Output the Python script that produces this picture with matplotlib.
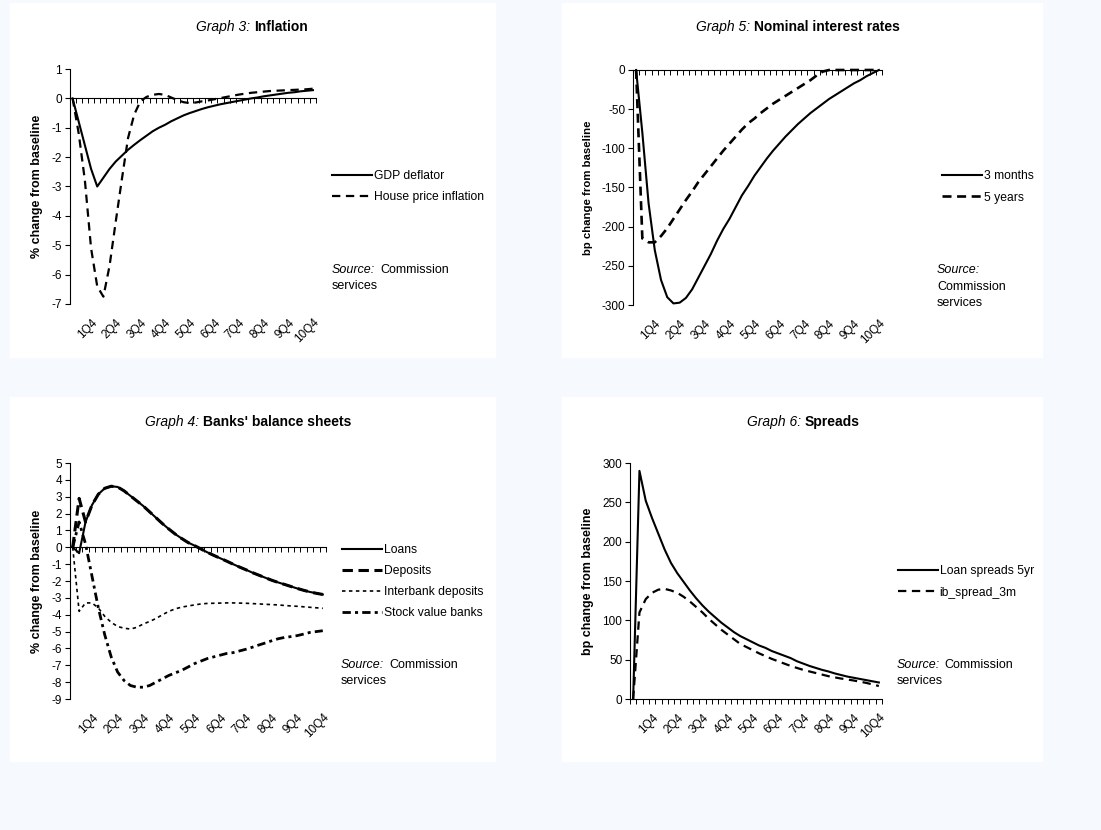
import numpy as np
import matplotlib.pyplot as plt
from matplotlib.patches import Rectangle

plt.rcParams['font.family'] = ['Liberation Sans', 'DejaVu Sans']
plt.rcParams['lines.scale_dashes'] = False
plt.rcParams['axes.unicode_minus'] = False

W, H = 1101, 830

# 40 quarters, labels shown on the fourth quarter of each year
quarters = np.arange(40)
tick_pos = [3, 7, 11, 15, 19, 23, 27, 31, 35, 39]
tick_labels = ['1Q4', '2Q4', '3Q4', '4Q4', '5Q4', '6Q4', '7Q4', '8Q4', '9Q4', '10Q4']

# Graph 3: Inflation (% change from baseline)
gdp_deflator = [0, -0.8, -1.6, -2.4, -3.0, -2.7, -2.4, -2.15, -1.95, -1.75,
                -1.58, -1.42, -1.27, -1.12, -1.0, -0.9, -0.78, -0.68, -0.58, -0.5,
                -0.43, -0.36, -0.3, -0.25, -0.2, -0.16, -0.12, -0.08, -0.04, 0.0,
                0.03, 0.07, 0.1, 0.13, 0.16, 0.19, 0.21, 0.24, 0.26, 0.28]
house_price = [0, -1.2, -2.8, -5.1, -6.4, -6.75, -5.7, -4.2, -2.75, -1.35,
               -0.55, -0.1, 0.05, 0.12, 0.15, 0.12, 0.03, -0.06, -0.13, -0.16,
               -0.14, -0.1, -0.07, -0.03, 0.01, 0.05, 0.09, 0.13, 0.16, 0.19,
               0.21, 0.23, 0.25, 0.26, 0.27, 0.28, 0.29, 0.3, 0.31, 0.33]

# Graph 5: Nominal interest rates (bp change from baseline)
rate_3m = [0, -80, -170, -230, -268, -290, -298, -297, -291, -280,
           -265, -250, -235, -218, -203, -190, -175, -160, -148, -135,
           -124, -113, -103, -94, -85, -77, -69, -62, -55, -49,
           -43, -37, -32, -27, -22, -17, -13, -8, -4, 0]
rate_5y = [0, -215, -220, -220, -212, -202, -190, -178, -166, -155,
           -143, -133, -123, -113, -103, -94, -85, -76, -68, -62,
           -55, -49, -43, -38, -33, -28, -23, -18, -13, -7,
           -2, 0, 0, 0, 0, 0, 0, 0, 0, 0]

# Graph 4: Banks' balance sheets (% change from baseline)
loans = [0, -0.35, 1.5, 2.5, 3.15, 3.5, 3.62, 3.58, 3.35, 3.05,
         2.75, 2.45, 2.1, 1.75, 1.4, 1.08, 0.78, 0.52, 0.28, 0.1,
         -0.1, -0.3, -0.48, -0.65, -0.82, -1.0, -1.17, -1.33, -1.5, -1.65,
         -1.8, -1.95, -2.08, -2.2, -2.32, -2.44, -2.55, -2.65, -2.73, -2.8]
deposits = [0, 2.9, 1.5, 2.5, 3.15, 3.5, 3.62, 3.58, 3.35, 3.05,
            2.75, 2.45, 2.1, 1.75, 1.4, 1.08, 0.78, 0.52, 0.28, 0.1,
            -0.1, -0.3, -0.48, -0.65, -0.82, -1.0, -1.17, -1.33, -1.5, -1.65,
            -1.8, -1.95, -2.08, -2.2, -2.32, -2.44, -2.55, -2.65, -2.73, -2.8]
interbank = [0, -3.8, -3.3, -3.3, -3.6, -4.1, -4.45, -4.7, -4.8, -4.85,
             -4.75, -4.55, -4.4, -4.22, -4.0, -3.8, -3.65, -3.55, -3.48, -3.42,
             -3.36, -3.33, -3.32, -3.31, -3.3, -3.3, -3.31, -3.32, -3.34, -3.36,
             -3.38, -3.4, -3.42, -3.45, -3.48, -3.5, -3.53, -3.56, -3.59, -3.62]
stock_value = [0, 1.5, 0.2, -1.7, -3.6, -5.2, -6.5, -7.4, -7.9, -8.2,
               -8.3, -8.3, -8.2, -8.0, -7.8, -7.6, -7.45, -7.3, -7.1, -6.9,
               -6.75, -6.6, -6.5, -6.4, -6.3, -6.25, -6.15, -6.05, -5.93, -5.8,
               -5.68, -5.55, -5.43, -5.35, -5.3, -5.24, -5.15, -5.05, -5.0, -4.95]

# Graph 6: Spreads (bp change from baseline)
loan_spreads = [0, 290, 252, 230, 210, 190, 173, 160, 149, 138,
                128, 119, 111, 104, 97, 91, 85, 80, 76, 72,
                68, 65, 61, 58, 55, 52, 48, 45, 42, 39.5,
                37, 35, 32.5, 30.5, 28.5, 27, 25.5, 24, 22.5, 21]
ib_spread = [0, 110, 127, 135, 139, 140, 138, 135, 130, 124,
             117, 110, 102, 95, 88, 82, 76, 70, 66, 62,
             58, 54.5, 51, 48, 45, 42, 39.5, 37, 35, 33,
             31, 29, 27.5, 26, 24.8, 23.5, 22, 20.5, 18.5, 16.5]


def px(x, y):
    return x / W, 1 - y / H


fig = plt.figure(figsize=(W / 100, H / 100), dpi=100, facecolor='#f6f9fd')

# white panels behind each graph
for x0, y0, x1, y1 in [(10, 3, 496, 358), (562, 3, 1043, 358),
                       (10, 397, 496, 762), (562, 397, 1043, 762)]:
    fig.patches.append(Rectangle(px(x0, y1), (x1 - x0) / W, (y1 - y0) / H,
                                 transform=fig.transFigure, facecolor='white',
                                 edgecolor='none', zorder=-1))


def make_axes(left, top, right, bottom, ylim, yticks):
    l, b = px(left, bottom)
    ax = fig.add_axes([l, b, (right - left) / W, (bottom - top) / H])
    ax.set_facecolor('none')
    ax.set_xlim(-0.5, 39.5)
    ax.set_ylim(ylim)
    ax.set_yticks(yticks)
    ax.spines['right'].set_visible(False)
    ax.spines['bottom'].set_visible(False)
    ax.spines['top'].set_position(('data', 0))
    ax.spines['top'].set_linewidth(0.8)
    ax.spines['left'].set_linewidth(0.8)
    ax.set_xticks(tick_pos)
    ax.set_xticklabels(tick_labels, rotation=45, ha='right', rotation_mode='anchor')
    ax.set_xticks(np.arange(-0.5, 40, 1), minor=True)
    ax.tick_params(axis='x', which='major', length=0, pad=9, labelsize=8.5)
    ax.tick_params(axis='x', which='minor', bottom=False, top=True,
                   direction='in', length=3.5, width=0.7)
    ax.tick_params(axis='y', direction='out', length=3.5, width=0.8,
                   labelsize=8.5, pad=2)
    return ax


def title(x_split, y, num, name):
    fig.text(*px(x_split - 2, y), f'Graph {num}:', style='italic',
             fontsize=10, ha='right', va='center')
    fig.text(*px(x_split + 2, y), name, fontweight='bold',
             fontsize=10, ha='left', va='center')


def source(x, y, x_comm, two_lines=True):
    fig.text(*px(x, y), 'Source:', style='italic', fontsize=9, va='center')
    if two_lines:
        fig.text(*px(x_comm, y), 'Commission', fontsize=9, va='center')
        fig.text(*px(x, y + 16), 'services', fontsize=9, va='center')
    else:
        fig.text(*px(x, y + 17), 'Commission', fontsize=9, va='center')
        fig.text(*px(x, y + 33), 'services', fontsize=9, va='center')


def legend(ax, x, y, handles=None, labels=None):
    if handles is None:
        handles, labels = ax.get_legend_handles_labels()
    ax.legend(handles, labels, loc='center left', bbox_to_anchor=px(x, y),
              bbox_transform=fig.transFigure, frameon=False, fontsize=8.7,
              borderpad=0, borderaxespad=0, handlelength=3.3,
              handletextpad=0.15, labelspacing=0.75)


# Graph 3
ax1 = make_axes(69.5, 69, 316, 304, (-7, 1), range(-7, 2))
ax1.plot(quarters, gdp_deflator, color='black', lw=1.5, label='GDP deflator', clip_on=False)
ax1.plot(quarters, house_price, color='black', lw=1.6, dashes=(6, 4),
         label='House price inflation', clip_on=False)
title(252.5, 27, 3, 'Inflation')
fig.text(*px(37, 186.5), '% change from baseline', rotation=90, fontweight='bold',
         fontsize=9, ha='center', va='center')
legend(ax1, 332, 186.5)
source(332, 270, 380)

# Graph 5
ax2 = make_axes(633, 70, 882, 305, (-300, 0), range(-300, 1, 50))
ax2.plot(quarters, rate_3m, color='black', lw=1.5, label='3 months', clip_on=False)
ax2.plot(quarters, rate_5y, color='black', lw=1.9, dashes=(6.5, 4),
         label='5 years', clip_on=False)
title(752, 27, 5, 'Nominal interest rates')
fig.text(*px(588, 188), 'bp change from baseline', rotation=90, fontweight='bold',
         fontsize=8.2, ha='center', va='center')
legend(ax2, 942, 187)
source(937, 270, 937, two_lines=False)

# Graph 4
ax3 = make_axes(69.5, 463, 326, 699, (-9, 5), range(-9, 6))
ax3.plot(quarters, deposits, color='black', lw=2.2, dashes=(7.5, 4),
         label='Deposits', clip_on=False)
ax3.plot(quarters, loans, color='black', lw=1.5, label='Loans', clip_on=False)
ax3.plot(quarters, interbank, color='black', lw=1.2, dashes=(2.5, 2.5),
         label='Interbank deposits', clip_on=False)
ax3.plot(quarters, stock_value, color='black', lw=2.0, dashes=(6, 3, 2.2, 3),
         label='Stock value banks', clip_on=False)
h, lab = ax3.get_legend_handles_labels()
order = [1, 0, 2, 3]
legend(ax3, 342, 581.5, [h[i] for i in order], [lab[i] for i in order])
title(201, 422, 4, "Banks' balance sheets")
fig.text(*px(37, 581), '% change from baseline', rotation=90, fontweight='bold',
         fontsize=9, ha='center', va='center')
source(341, 665, 389)

# Graph 6
ax4 = make_axes(630, 463, 882, 699, (0, 300), range(0, 301, 50))
ax4.plot(quarters, loan_spreads, color='black', lw=1.5, label='Loan spreads 5yr', clip_on=False)
ax4.plot(quarters, ib_spread, color='black', lw=1.6, dashes=(6, 4),
         label='ib_spread_3m', clip_on=False)
title(803, 422, 6, 'Spreads')
fig.text(*px(588, 581), 'bp change from baseline', rotation=90, fontweight='bold',
         fontsize=9, ha='center', va='center')
legend(ax4, 898, 582)
source(897, 665, 944)

fig.savefig('out.png', dpi=100, facecolor=fig.get_facecolor())
